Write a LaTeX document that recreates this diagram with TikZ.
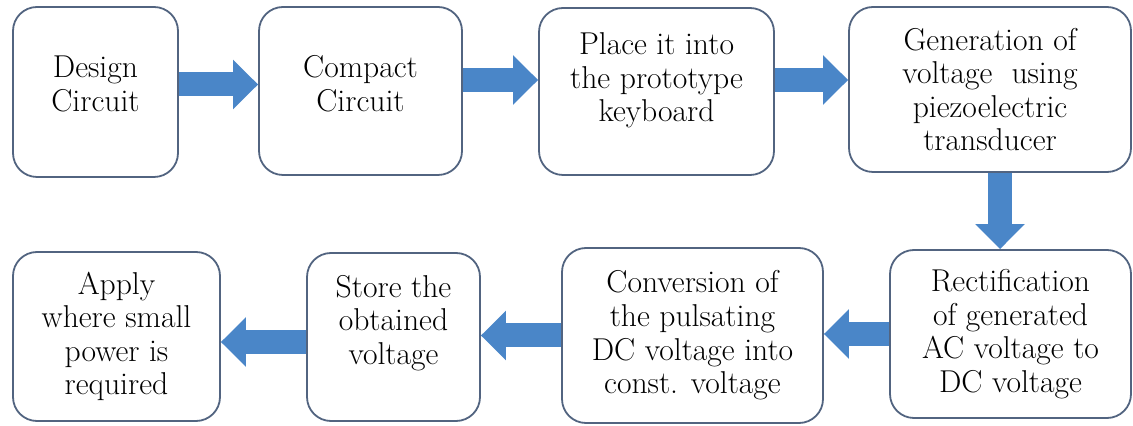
\documentclass[tikz,border=0pt]{standalone}
\usetikzlibrary{arrows.meta}

\definecolor{flowblue}{RGB}{74,134,200}
\definecolor{boxline}{RGB}{82,100,128}

\begin{document}
\begin{tikzpicture}[
        x=0.5pt, y=-0.5pt,
        font=\fontsize{15.8}{16.8}\selectfont,
        box/.style={draw=boxline, line width=0.9pt, rounded corners=12pt, fill=white, inner sep=0pt},
        txt/.style={align=center, inner sep=0pt},
        flow/.style={draw=flowblue, line width=12pt, -{Triangle[width=24pt, length=12.5pt]}}]

    \useasboundingbox (0,0) rectangle (1133,426);

    % ---------- top row ----------
    \node[box, minimum width=82.5pt, minimum height=85pt] (b1) at (95.5,92) {};
    \node[box, minimum width=101.5pt, minimum height=84pt] (b2) at (360.5,91) {};
    \node[box, minimum width=117.5pt, minimum height=83.5pt] (b3) at (656.5,91.5) {};
    \node[box, minimum width=141pt, minimum height=82.5pt] (b4) at (990,89.5) {};

    \node[txt] (t1) at ([yshift=4pt]b1.center) {Design\\Circuit};
    \node[txt] (t2) at ([yshift=3.5pt]b2.center) {Compact\\Circuit};
    \node[txt] (t3) at ([yshift=5.5pt]b3.center) {Place it into\\the prototype\\keyboard};
    \node[txt] (t4) at (b4.center) {Generation of\\voltage\ \ using\\piezoelectric\\transducer};

    % ---------- bottom row ----------
    \node[box, minimum width=120.5pt, minimum height=84pt] (b5) at (1010.5,334) {};
    \node[box, minimum width=130.5pt, minimum height=87.5pt] (b6) at (692.5,335.5) {};
    \node[box, minimum width=86.5pt, minimum height=84pt] (b7) at (393.5,337) {};
    \node[box, minimum width=103.5pt, minimum height=84.5pt] (b8) at (116.5,336.5) {};

    \node[txt] (t5) at (b5.center) {Rectification\\of generated\\AC voltage to\\DC voltage};
    \node[txt] (t6) at (b6.center) {Conversion of\\the pulsating\\DC voltage into\\const. voltage};
    \node[txt] (t7) at ([yshift=7pt]b7.center) {Store the\\obtained\\voltage};
    \node[txt] (t8) at (b8.center) {Apply\\where small\\power is\\required};

    % ---------- block arrows ----------
    \draw[flow] ([yshift=3.75pt]b1.east) -- ([yshift=3.75pt]b1.east -| b2.west);
    \draw[flow] ([yshift=5.5pt]b2.east) -- ([yshift=5.5pt]b2.east -| b3.west);
    \draw[flow] ([yshift=5.75pt]b3.east) -- ([yshift=5.75pt]b3.east -| b4.west);
    \draw[flow] ([xshift=5pt]b4.south) -- ([xshift=5pt]b4.south |- b5.north);
    \draw[flow] (b5.west) -- (b5.west -| b6.east);
    \draw[flow] (b6.west) -- (b6.west -| b7.east);
    \draw[flow] ([yshift=-2.5pt]b7.west) -- ([yshift=-2.5pt]b7.west -| b8.east);
\end{tikzpicture}
\end{document}
